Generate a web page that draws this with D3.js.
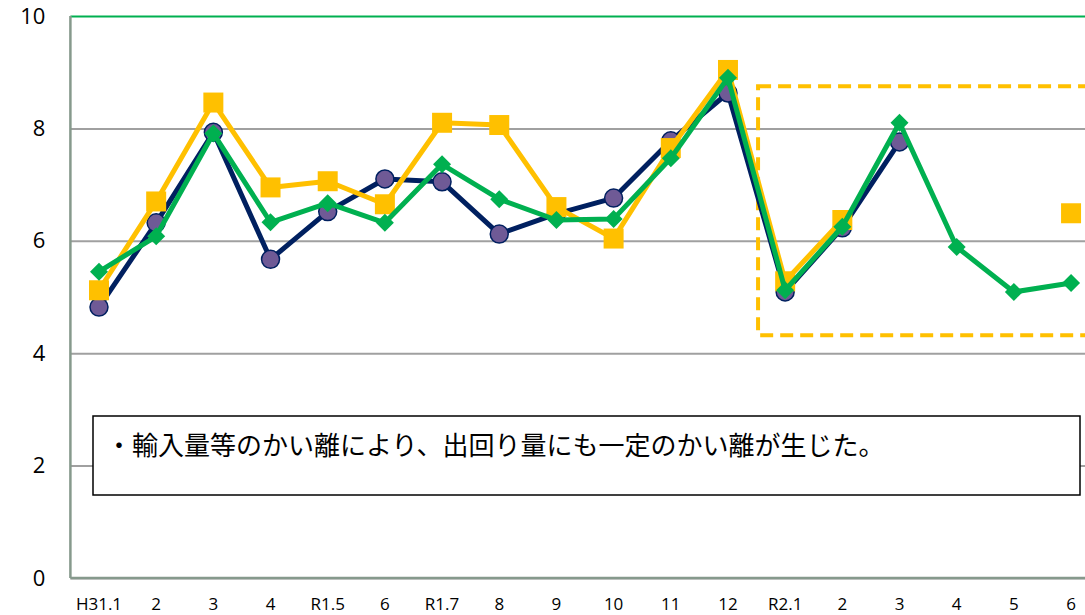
<!DOCTYPE html>
<html>
<head>
<meta charset="utf-8">
<script src="https://cdn.jsdelivr.net/npm/d3@7"></script>
<style>
  body { margin: 0; background: #fff; }
  svg { display: block; }
</style>
</head>
<body>
<svg id="chart"></svg>
<script>
// categories (months) and the three series
var months = ["H31.1", "2", "3", "4", "R1.5", "6", "R1.7", "8", "9", "10", "11", "12", "R2.1", "2", "3", "4", "5", "6"];
var navySeries = [4.82, 6.32, 7.93, 5.67, 6.52, 7.10, 7.05, 6.12, 6.48, 6.76, 7.78, 8.63, 5.09, 6.23, 7.76, null, null, null];
var yellowSeries = [5.12, 6.70, 8.46, 6.95, 7.06, 6.65, 8.10, 8.06, 6.60, 6.04, 7.65, 9.04, 5.28, 6.37, null, null, null, 6.49];
var greenSeries = [5.45, 6.08, 7.91, 6.33, 6.67, 6.32, 7.36, 6.74, 6.37, 6.39, 7.47, 8.90, 5.12, 6.25, 8.10, 5.89, 5.09, 5.25];
var yTicks = [0, 2, 4, 6, 8, 10];

// highlighted range (from R2.1 to the end)
var highlightFrom = 12, highlightTop = 8.75, highlightBottom = 4.32;
var note = "・輸入量等のかい離により、出回り量にも一定のかい離が生じた。";

var W = 1085, H = 615;
var margin = { top: 16, left: 70.4, bottom: 37 };
var plotW = 18 * 57.18;
var plotH = H - margin.top - margin.bottom;

var svg = d3.select("#chart").attr("width", W).attr("height", H);
var g = svg.append("g").attr("transform", "translate(" + margin.left + "," + margin.top + ")");

var x = d3.scaleBand().domain(d3.range(months.length)).range([0, plotW]).padding(0);
var y = d3.scaleLinear().domain([0, 10]).range([plotH, 0]);
var cx = function(i) { return x(i) + x.bandwidth() / 2; };

// gridlines + y labels
var yAxis = g.append("g")
  .call(d3.axisLeft(y).tickValues(yTicks).tickSize(-plotW).tickPadding(25));
yAxis.select(".domain").remove();
yAxis.selectAll(".tick line")
  .attr("stroke", function(d) { return d === 10 ? "#00b050" : "#a0a0a0"; })
  .attr("stroke-width", 2);
yAxis.selectAll(".tick text")
  .attr("fill", "#000")
  .style("font-family", "'Open Sans', sans-serif")
  .style("font-size", "22px");

// axis lines
g.append("line").attr("x1", 0).attr("x2", 0).attr("y1", 0).attr("y2", plotH)
  .attr("stroke", "#86998c").attr("stroke-width", 2.5);
g.append("line").attr("x1", 0).attr("x2", plotW).attr("y1", plotH).attr("y2", plotH)
  .attr("stroke", "#86998c").attr("stroke-width", 2.5);

// x labels
var xAxis = g.append("g").attr("transform", "translate(0," + plotH + ")")
  .call(d3.axisBottom(x).tickSize(0).tickPadding(20).tickFormat(function(i) { return months[i]; }));
xAxis.select(".domain").remove();
xAxis.selectAll(".tick text")
  .attr("fill", "#000")
  .style("font-family", "'Open Sans', sans-serif")
  .style("font-size", "17px");

// dashed highlight box
g.append("rect")
  .attr("x", x(highlightFrom) + 1.5)
  .attr("y", y(highlightTop))
  .attr("width", plotW - x(highlightFrom))
  .attr("height", y(highlightBottom) - y(highlightTop))
  .attr("fill", "none")
  .attr("stroke", "#ffc000")
  .attr("stroke-width", 4)
  .attr("stroke-dasharray", "13,7");

function drawSeries(values, color, marker) {
  var pts = values.map(function(v, i) { return { i: i, v: v }; });
  var line = d3.line()
    .defined(function(d) { return d.v != null; })
    .x(function(d) { return cx(d.i); })
    .y(function(d) { return y(d.v); });
  g.append("path").datum(pts)
    .attr("d", line)
    .attr("fill", "none")
    .attr("stroke", color)
    .attr("stroke-width", 5)
    .attr("stroke-linejoin", "round");
  var m = g.append("g").selectAll("path")
    .data(pts.filter(function(d) { return d.v != null; }))
    .join("path")
    .attr("transform", function(d) { return "translate(" + cx(d.i) + "," + y(d.v) + ")"; });
  marker(m);
}

drawSeries(navySeries, "#002060", function(m) {
  m.attr("d", d3.symbol(d3.symbolCircle, 254))
    .attr("fill", "#6f5a96").attr("stroke", "#002060").attr("stroke-width", 1.5);
});
drawSeries(yellowSeries, "#ffc000", function(m) {
  m.attr("d", d3.symbol(d3.symbolSquare, 400)).attr("fill", "#ffc000");
});
drawSeries(greenSeries, "#00b050", function(m) {
  m.attr("d", "M0,-9L9,0L0,9L-9,0Z").attr("fill", "#00b050");
});

// note box
var box = svg.append("g");
box.append("rect")
  .attr("x", 93).attr("y", 416).attr("width", 987).attr("height", 79)
  .attr("fill", "#fff").attr("stroke", "#000").attr("stroke-width", 1.5);
box.append("text")
  .attr("x", 106).attr("y", 455)
  .attr("font-family", "'Noto Sans CJK JP', sans-serif")
  .attr("font-size", 26)
  .text(note);
</script>
</body>
</html>
